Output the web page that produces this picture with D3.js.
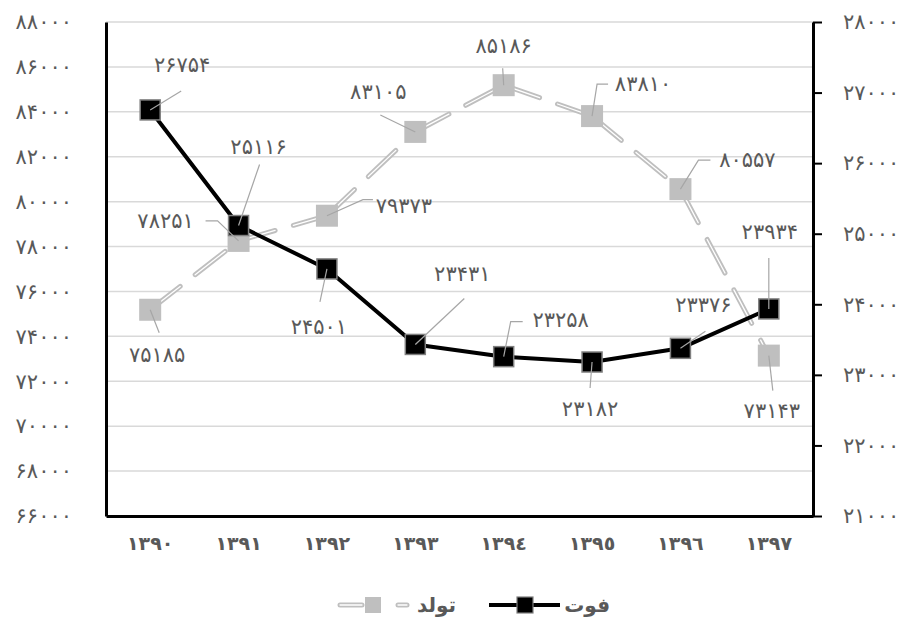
<!DOCTYPE html>
<html>
<head>
<meta charset="utf-8">
<script src="https://cdn.jsdelivr.net/npm/d3@7"></script>
<style>
  html, body { margin: 0; padding: 0; background: #fff; }
  svg text { font-family: "DejaVu Sans", sans-serif; }
</style>
</head>
<body>
<div id="chart"></div>
<script>
const years = ['١٣٩٠', '١٣٩١', '١٣٩٢', '١٣٩٣', '١٣٩٤', '١٣٩٥', '١٣٩٦', '١٣٩٧'];
const births = [75185, 78251, 79373, 83105, 85186, 83810, 80557, 73143];
const deaths = [26754, 25116, 24501, 23431, 23258, 23182, 23376, 23934];
const leftTicks = d3.range(66000, 88001, 2000);
const rightTicks = d3.range(21000, 28001, 1000);
const birthName = 'تولد';
const deathName = 'فوت';

// label placement (text centre + leader line points, relative to marker)
const deathLabelPos = [
    { t: [32, -45], l: [[31, -19]] },
    { t: [20, -79], l: [[21, -61]] },
    { t: [-8, 58], l: [[-7, 33]] },
    { t: [47, -71], l: [[49, -46]] },
    { t: [57, -37], l: [[7, -35], [19, -35]] },
    { t: [-2, 47], l: [[-2, 26]] },
    { t: [23, -44], l: [[25, -17]] },
    { t: [1, -77], l: [[0, -51]] }
];
const birthLabelPos = [
    { t: [7, 45], l: [[9, 23]] },
    { t: [-73, -20], l: [[-21, -20], [-33, -20]] },
    { t: [77, -10], l: [[36, -16], [46, -16]] },
    { t: [-37, -40], l: [[-35, -17]] },
    { t: [0, -40], l: [[-1, -17]] },
    { t: [51, -32], l: [[5, -32], [16, -32]] },
    { t: [67, -29], l: [[18, -29], [30, -29]] },
    { t: [3, 55], l: [[4, 35]] }
];

const persianDigits = '۰۱۲۳۴۵۶۷۸۹';
const toFa = v => String(v).replace(/[0-9]/g, c => persianDigits[+c]);

const width = 909, height = 627;
const plot = { left: 106, right: 813, top: 22, bottom: 516 };
const textColor = '#595959';
const gridColor = '#d9d9d9';
const birthColor = '#bfbfbf';

const svg = d3.select('#chart').append('svg')
    .attr('width', width)
    .attr('height', height);

const x = d3.scaleBand().domain(years).range([plot.left, plot.right]);
const yL = d3.scaleLinear().domain([66000, 88000]).range([plot.bottom, plot.top]);
const yR = d3.scaleLinear().domain([21000, 28000]).range([plot.bottom, plot.top]);
const cx = i => x(years[i]) + x.bandwidth() / 2;

// gridlines
svg.append('g').selectAll('line').data(leftTicks).join('line')
    .attr('x1', plot.left).attr('x2', plot.right)
    .attr('y1', d => yL(d)).attr('y2', d => yL(d))
    .attr('stroke', gridColor).attr('stroke-width', 1.5);

// left axis
const leftAxis = svg.append('g')
    .attr('transform', `translate(${plot.left},0)`)
    .call(d3.axisLeft(yL).tickValues(leftTicks).tickSize(0).tickPadding(34).tickFormat(toFa));
leftAxis.select('.domain').attr('stroke', '#000').attr('stroke-width', 3);
leftAxis.selectAll('text').attr('fill', textColor).attr('font-size', 21);

// right axis
const rightAxis = svg.append('g')
    .attr('transform', `translate(${plot.right},0)`)
    .call(d3.axisRight(yR).tickValues(rightTicks).tickSizeInner(9).tickSizeOuter(0).tickPadding(21).tickFormat(toFa));
rightAxis.select('.domain').attr('stroke', '#000').attr('stroke-width', 3);
rightAxis.selectAll('.tick line').attr('stroke', '#000').attr('stroke-width', 2);
rightAxis.selectAll('text').attr('fill', textColor).attr('font-size', 21);

// bottom axis
const bottomAxis = svg.append('g')
    .attr('transform', `translate(0,${plot.bottom})`)
    .call(d3.axisBottom(x).tickSize(0).tickPadding(21));
bottomAxis.select('.domain').attr('stroke', '#000').attr('stroke-width', 3);
bottomAxis.selectAll('text').attr('fill', textColor).attr('font-size', 19).attr('font-weight', 'bold');

// births: double dashed grey line, pattern restarting per segment
const birthPts = births.map((v, i) => [cx(i), yL(v)]);
const segs = d3.pairs(birthPts);
const birthLayer = svg.append('g');
birthLayer.selectAll('path.outer').data(segs).join('path')
    .attr('class', 'outer')
    .attr('d', d => d3.line()(d))
    .attr('fill', 'none').attr('stroke', birthColor).attr('stroke-width', 5)
    .attr('stroke-dasharray', '38,19').attr('stroke-linecap', 'round');
birthLayer.selectAll('path.inner').data(segs).join('path')
    .attr('class', 'inner')
    .attr('d', d => d3.line()(d))
    .attr('fill', 'none').attr('stroke', '#fff').attr('stroke-width', 1.3)
    .attr('stroke-dasharray', '38,19').attr('stroke-linecap', 'round');
birthLayer.selectAll('rect').data(birthPts).join('rect')
    .attr('x', d => d[0] - 11).attr('y', d => d[1] - 11)
    .attr('width', 22).attr('height', 22)
    .attr('fill', birthColor);

// deaths: solid black line
const deathPts = deaths.map((v, i) => [cx(i), yR(v)]);
const deathLayer = svg.append('g');
deathLayer.append('path')
    .attr('d', d3.line()(deathPts))
    .attr('fill', 'none').attr('stroke', '#000').attr('stroke-width', 4)
    .attr('stroke-linejoin', 'round');
deathLayer.selectAll('rect').data(deathPts).join('rect')
    .attr('x', d => d[0] - 10).attr('y', d => d[1] - 10)
    .attr('width', 20).attr('height', 20)
    .attr('fill', '#000').attr('stroke', '#7f7f7f').attr('stroke-width', 1.5);

// data labels with leader lines
function drawLabels(pts, values, pos) {
    const g = svg.append('g');
    pts.forEach((p, i) => {
        const lp = [p].concat(pos[i].l.map(o => [p[0] + o[0], p[1] + o[1]]));
        g.append('path')
            .attr('d', d3.line()(lp))
            .attr('fill', 'none').attr('stroke', '#a6a6a6').attr('stroke-width', 1.2);
        g.append('text')
            .attr('x', p[0] + pos[i].t[0])
            .attr('y', p[1] + pos[i].t[1])
            .attr('dy', '0.35em')
            .attr('text-anchor', 'middle')
            .attr('fill', textColor)
            .attr('font-size', 21)
            .text(toFa(values[i]));
    });
}
drawLabels(birthPts, births, birthLabelPos);
drawLabels(deathPts, deaths, deathLabelPos);

// legend
const legend = svg.append('g').attr('transform', 'translate(0,605)');
legend.append('text')
    .attr('x', 610).attr('dy', '0.35em').attr('text-anchor', 'end')
    .attr('fill', textColor).attr('font-size', 20).attr('font-weight', 'bold')
    .text(deathName);
legend.append('line')
    .attr('x1', 489).attr('x2', 560)
    .attr('stroke', '#000').attr('stroke-width', 4);
legend.append('rect')
    .attr('x', 517).attr('y', -8).attr('width', 16).attr('height', 16)
    .attr('fill', '#000').attr('stroke', '#7f7f7f').attr('stroke-width', 1.2);

legend.append('text')
    .attr('x', 456).attr('dy', '0.35em').attr('text-anchor', 'end')
    .attr('fill', textColor).attr('font-size', 20).attr('font-weight', 'bold')
    .text(birthName);
[[340, 362], [398, 407]].forEach(s => {
    legend.append('line')
        .attr('x1', s[0]).attr('x2', s[1])
        .attr('stroke', birthColor).attr('stroke-width', 5).attr('stroke-linecap', 'round');
    legend.append('line')
        .attr('x1', s[0]).attr('x2', s[1])
        .attr('stroke', '#fff').attr('stroke-width', 1.3).attr('stroke-linecap', 'round');
});
legend.append('rect')
    .attr('x', 365).attr('y', -8).attr('width', 16).attr('height', 16)
    .attr('fill', birthColor);
</script>
</body>
</html>
